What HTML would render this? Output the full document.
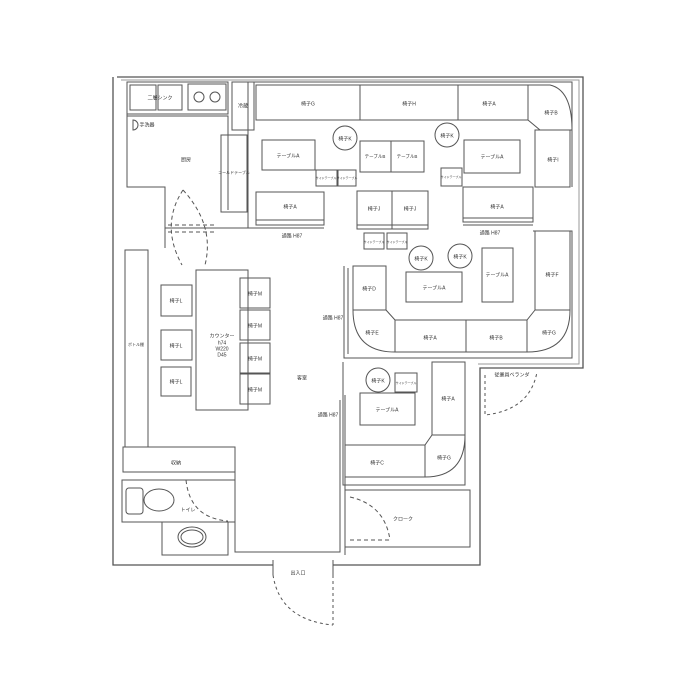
<!DOCTYPE html>
<html><head><meta charset="utf-8"><style>
html,body{margin:0;padding:0;background:#fff;}
svg{display:block}
text{font-family:"Liberation Sans","Noto Sans CJK JP",sans-serif;font-size:5px;fill:#333;text-anchor:middle;dominant-baseline:middle}
</style></head><body>
<svg width="700" height="700" viewBox="0 0 700 700" xmlns="http://www.w3.org/2000/svg">
<g fill="none" stroke="#555" stroke-width="1">
<!-- outer walls -->
<path d="M117 77 H583 V368 H480 V565 H333 M273 565 H113 V77" stroke-width="1.3"/>
<path d="M121 80 H579 V364 H478" stroke="#999"/>
<!-- kitchen -->
<rect x="127" y="82" width="101" height="32"/>
<rect x="130" y="85" width="26" height="25"/><rect x="158" y="85" width="24" height="25"/>
<rect x="188" y="84" width="38" height="26"/>
<circle cx="199" cy="97" r="5"/><circle cx="215" cy="97" r="5"/>
<path d="M127 114 V187 H165 V248"/>
<path d="M127 116 H228 V210"/>
<path d="M133 120 a5 5 0 0 1 0 10 z"/>
<rect x="221" y="135" width="26" height="77"/>
<path d="M248 82 V228 H165"/>
<rect x="232" y="82" width="22" height="48"/>
<path d="M183 190 Q215 225 205 265 M183 190 Q160 225 182 265 M183 265" stroke-dasharray="4 3"/>
<path d="M168 225 H215 M168 232 H215" stroke-dasharray="4 3"/>
<!-- upper seating -->
<path d="M254 82 H572 V187"/>
<rect x="256" y="85" width="104" height="35"/>
<rect x="360" y="85" width="98" height="35"/>
<rect x="458" y="85" width="70" height="35"/>
<path d="M528 85 H550 Q572 90 572 130 H540 L528 120 Z"/>
<rect x="535" y="130" width="35" height="57"/>
<rect x="262" y="140" width="53" height="30"/>
<circle cx="345" cy="138" r="12"/><circle cx="447" cy="135" r="12"/>
<rect x="360" y="141" width="31" height="31"/><rect x="391" y="141" width="33" height="31"/>
<rect x="464" y="140" width="56" height="33"/>
<rect x="316" y="170" width="21" height="16"/><rect x="338" y="170" width="18" height="16"/>
<rect x="441" y="168" width="21" height="18"/>
<rect x="256" y="192" width="68" height="33"/><path d="M256 220 H324"/>
<rect x="357" y="191" width="35" height="38"/><rect x="392" y="191" width="36" height="38"/><path d="M357 225 H428"/>
<rect x="364" y="233" width="20" height="16"/><rect x="387" y="233" width="20" height="16"/>
<rect x="463" y="187" width="70" height="35"/><path d="M463 218 H533"/>
<path d="M248 228 H324 M463 225 H533"/>
<!-- middle-right booth -->
<path d="M344 266 V358 H572 V231 H533"/>
<path d="M348 268 V354"/>
<rect x="535" y="231" width="35" height="79"/>
<rect x="353" y="266" width="33" height="44"/>
<path d="M353 310 Q353 352 395 352 H527 Q570 352 570 310 M386 310 L395 320 H527 L535 310 M395 320 V352 M466 320 V352 M527 320 V352"/>
<circle cx="421" cy="258" r="12"/><circle cx="460" cy="256" r="12"/>
<rect x="406" y="272" width="56" height="30"/>
<rect x="482" y="248" width="31" height="54"/>
<!-- counter area -->
<rect x="196" y="270" width="52" height="140"/>
<rect x="240" y="278" width="30" height="30"/><rect x="240" y="310" width="30" height="30"/>
<rect x="240" y="343" width="30" height="30"/><rect x="240" y="374" width="30" height="30"/>
<rect x="161" y="285" width="31" height="31"/><rect x="161" y="330" width="31" height="30"/><rect x="161" y="367" width="30" height="29"/>
<path d="M125 447 V250 H148 V447"/>
<rect x="123" y="447" width="112" height="25"/>
<path d="M235 447 V552 H340 V400 M345 395 V555"/>
<rect x="122" y="480" width="113" height="42"/>
<rect x="126" y="488" width="17" height="26" rx="3"/>
<ellipse cx="159" cy="500" rx="15" ry="11"/>
<rect x="162" y="522" width="66" height="33"/>
<ellipse cx="192" cy="537" rx="14" ry="10"/><ellipse cx="192" cy="537" rx="11" ry="7"/>
<path d="M186 480 Q190 518 228 521" stroke-dasharray="4 3"/>
<!-- lower right booth -->
<path d="M343 362 V485 H465 V362"/>
<rect x="432" y="362" width="33" height="73"/>
<path d="M345 445 H425 L432 435 H465 M425 445 V477 M345 477 H425 Q465 477 465 435"/>
<circle cx="378" cy="380" r="12"/>
<rect x="360" y="393" width="55" height="32"/>
<rect x="395" y="373" width="22" height="19"/>
<rect x="345" y="490" width="125" height="57"/>
<path d="M350 497 Q385 505 390 540 M350 540 H390" stroke-dasharray="4 3"/>
<!-- entrance door -->
<path d="M273 560 V575 M333 560 V575"/>
<path d="M273 575 Q280 620 333 625 M333 575 V625" stroke-dasharray="3 3"/>
<!-- balcony door -->
<path d="M485 375 V415 Q530 410 537 372" stroke-dasharray="3 3"/>
</g>
<text x="160" y="98">二層シンク</text>
<text x="147" y="125">手洗器</text>
<text x="186" y="160">厨房</text>
<text x="234" y="173" style="font-size:4px">コールドテーブル</text>
<text x="243" y="106">冷蔵</text>
<text x="308" y="104">椅子G</text><text x="409" y="104">椅子H</text><text x="489" y="104">椅子A</text>
<text x="551" y="113">椅子B</text><text x="553" y="160">椅子I</text>
<text x="288" y="156">テーブルA</text><text x="375" y="157" style="font-size:4.5px">テーブルB</text><text x="407" y="157" style="font-size:4.5px">テーブルB</text>
<text x="345" y="139">椅子K</text><text x="447" y="136">椅子K</text><text x="492" y="157">テーブルA</text>
<text x="326" y="178" style="font-size:3px">サイドテーブル</text><text x="347" y="178" style="font-size:3px">サイドテーブル</text><text x="451" y="177" style="font-size:3px">サイドテーブル</text>
<text x="290" y="207">椅子A</text><text x="374" y="209">椅子J</text><text x="410" y="209">椅子J</text><text x="497" y="207">椅子A</text>
<text x="374" y="242" style="font-size:3px">サイドテーブル</text><text x="397" y="242" style="font-size:3px">サイドテーブル</text>
<text x="292" y="236">通路 H87</text><text x="490" y="233">通路 H87</text>
<text x="421" y="259">椅子K</text><text x="460" y="257">椅子K</text>
<text x="434" y="288">テーブルA</text><text x="497" y="275">テーブルA</text>
<text x="552" y="275">椅子F</text><text x="369" y="289">椅子D</text>
<text x="372" y="333">椅子E</text><text x="430" y="338">椅子A</text><text x="496" y="338">椅子B</text><text x="549" y="333">椅子G</text>
<text x="222" y="336">カウンター</text><text x="222" y="343">h74</text><text x="222" y="349">W220</text><text x="222" y="355">D45</text>
<text x="255" y="294">椅子M</text><text x="255" y="326">椅子M</text><text x="255" y="359">椅子M</text><text x="255" y="390">椅子M</text>
<text x="176" y="301">椅子L</text><text x="176" y="346">椅子L</text><text x="176" y="382">椅子L</text>
<text x="136" y="345" style="font-size:4px">ボトル棚</text>
<text x="302" y="378">客室</text><text x="333" y="318">通路 H87</text><text x="328" y="415">通路 H87</text>
<text x="176" y="463">収納</text><text x="188" y="510">トイレ</text>
<text x="378" y="381">椅子K</text><text x="387" y="410">テーブルA</text><text x="406" y="383" style="font-size:3px">サイドテーブル</text>
<text x="448" y="399">椅子A</text><text x="377" y="463">椅子C</text><text x="444" y="458">椅子G</text>
<text x="403" y="519">クローク</text><text x="298" y="573">出入口</text>
<text x="512" y="375">従業員ベランダ</text>
</svg>
</body></html>
